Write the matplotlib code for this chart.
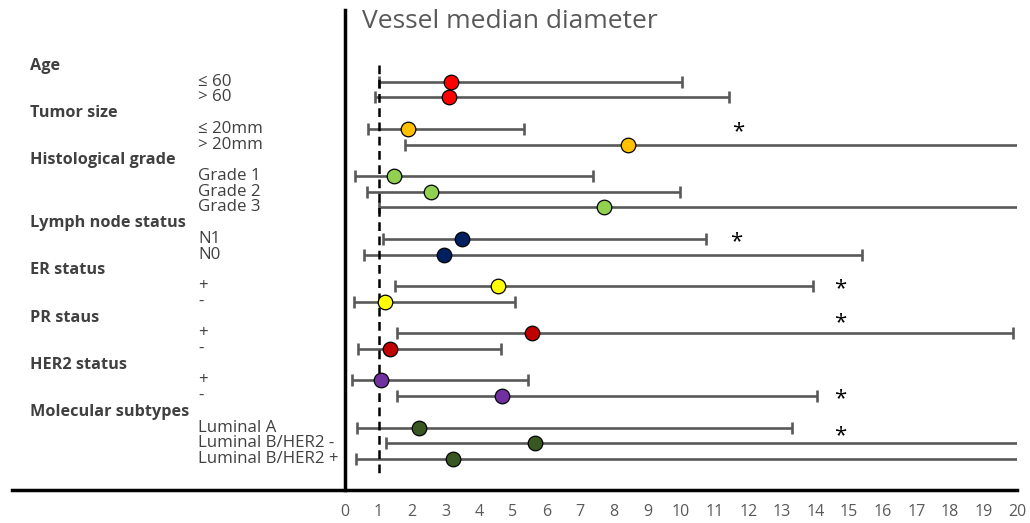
import matplotlib
matplotlib.use("Agg")
import matplotlib.pyplot as plt
from matplotlib.lines import Line2D

plt.rcParams['font.family'] = ['Open Sans', 'DejaVu Sans']

# ---------------- data ----------------
groups = ["Age", "Tumor size", "Histological grade", "Lymph node status",
          "ER status", "PR staus", "HER2 status", "Molecular subtypes"]
subgroups = [["≤ 60", "> 60"],
             ["≤ 20mm", "> 20mm"],
             ["Grade 1", "Grade 2", "Grade 3"],
             ["N1", "N0"],
             ["+", "-"],
             ["+", "-"],
             ["+", "-"],
             ["Luminal A", "Luminal B/HER2 -", "Luminal B/HER2 +"]]
median = [[3.15, 3.09], [1.87, 8.41], [1.47, 2.55, 7.72], [3.49, 2.94],
          [4.55, 1.18], [5.56, 1.34], [1.07, 4.68], [2.20, 5.65, 3.20]]
lower = [[1.01, 0.89], [0.67, 1.79], [0.31, 0.66, 1.00], [1.14, 0.58],
         [1.50, 0.28], [1.56, 0.40], [0.21, 1.56], [0.36, 1.22, 0.32]]
upper = [[10.04, 11.43], [5.33, 22.0], [7.39, 9.98, 22.0], [10.74, 15.38],
         [13.92, 5.05], [19.87, 4.65], [5.44, 14.05], [13.30, 22.0, 22.0]]
significant = [[False, False], [True, False], [False, False, False], [True, False],
               [True, False], [True, False], [False, True], [False, True, False]]
star_x = [[0, 0], [11.7, 0], [0, 0, 0], [11.65, 0],
          [14.75, 0], [14.75, 0], [0, 14.75], [0, 14.75, 0]]
star_dy = [[0, 0], [0, 0], [0, 0, 0], [0, 0],
           [0, 0], [-0.85, 0], [0, 0], [0, -0.65, 0]]
colors = ["#FF0000", "#FFC000", "#92D050", "#002060",
          "#FFFF00", "#C00000", "#7030A0", "#385723"]
xticks = list(range(0, 21))
reference_line = 1.0
title = "Vessel median diameter"

# ---------------- layout ----------------
W, H = 1030, 523
fig = plt.figure(figsize=(W / 100, H / 100), dpi=100)
x0_px, x1_px = 345, 1017
top_px, bot_px = 10, 490
ax = fig.add_axes([x0_px / W, 1 - bot_px / H, (x1_px - x0_px) / W, (bot_px - top_px) / H])
ax.set_xlim(0, 20)
ax.set_ylim(bot_px, top_px)   # y in pixel-like units (top = small)

slot0, step = 66.0, 15.72
text_col = "#404040"

slot = 0
for g, name in enumerate(groups):
    yh = slot0 + step * slot
    fig.text(30 / W, 1 - yh / H, name, fontsize=11.7, fontweight='bold',
             color=text_col, va='center', ha='left')
    slot += 1
    for k, sub in enumerate(subgroups[g]):
        y = slot0 + step * slot
        fig.text(198 / W, 1 - y / H, sub, fontsize=12.2, color=text_col,
                 va='center', ha='left')
        m, lo, hi = median[g][k], lower[g][k], upper[g][k]
        ax.errorbar([m], [y], xerr=[[m - lo], [hi - m]], fmt='none',
                    ecolor="#595959", elinewidth=1.9, capsize=4.5, capthick=1.9,
                    zorder=2)
        ax.plot([m], [y], 'o', ms=10.5, mfc=colors[g], mec='black', mew=0.9,
                zorder=4)
        if significant[g][k]:
            ax.text(star_x[g][k], y + star_dy[g][k] * step + 2.5, "*", fontsize=16,
                    ha='center', va='center', color='black', zorder=5)
        slot += 1

# reference dashed line
ax.plot([reference_line, reference_line], [65, 478], color='black', lw=1.8,
        ls=(0, (3.5, 2.2)), zorder=3)

# axes styling
for s in ['top', 'right', 'bottom']:
    ax.spines[s].set_visible(False)
ax.spines['left'].set_linewidth(2.5)
ax.spines['left'].set_color('black')
ax.set_yticks([])
ax.set_xticks(xticks)
ax.set_xticklabels([str(t) for t in xticks], fontsize=11.5, color="#595959")
ax.tick_params(axis='x', length=0, pad=10)

# long horizontal baseline
fig.add_artist(Line2D([12 / W, 1017 / W], [1 - bot_px / H, 1 - bot_px / H],
                      color='black', lw=2.5))

fig.text(362 / W, 1 - 21 / H, title, fontsize=19, color="#595959",
         va='center', ha='left')

fig.savefig("out.png", dpi=100)
